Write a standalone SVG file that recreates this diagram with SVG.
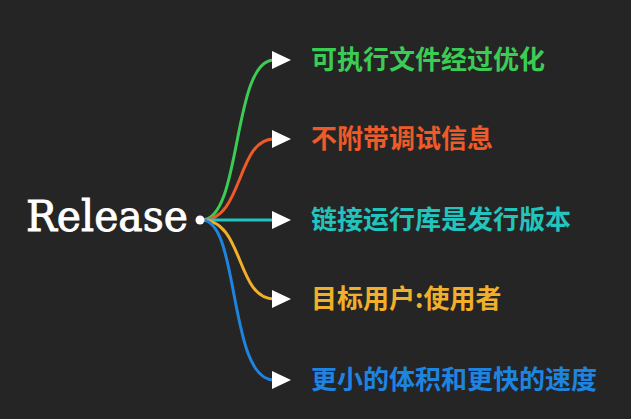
<svg xmlns="http://www.w3.org/2000/svg" width="631" height="419" viewBox="0 0 631 419">
<style>
.bg{fill:#252525}
.c{fill:none;stroke-width:3;stroke-linecap:round}
.ah{fill:#ffffff}
.lbl{font-family:"Noto Sans CJK SC","Noto Sans",sans-serif;font-size:26px;font-weight:bold}
.root{font-family:"DejaVu Serif","Liberation Serif",serif;font-size:42px;fill:#ffffff;stroke:#ffffff;stroke-width:0.9}
</style>
<rect class="bg" x="0" y="0" width="631" height="419"/>
<g id="connectors">
<path class="c" stroke="#3ccc55" d="M202,220 C242,220 232,60 274,60"/>
<path class="c" stroke="#ee5a28" d="M202,220 C244,220 236,139 274,139"/>
<path class="c" stroke="#22c4bd" d="M202,220 L274,220"/>
<path class="c" stroke="#f2b02a" d="M202,220 C244,220 236,299 274,299"/>
<path class="c" stroke="#1e84e0" d="M202,220 C240,220 228,380 274,380"/>
<polygon class="ah" points="272,51 291,60 272,69"/>
<polygon class="ah" points="272,130 291,139 272,148"/>
<polygon class="ah" points="272,211 291,220 272,229"/>
<polygon class="ah" points="272,290 291,299 272,308"/>
<polygon class="ah" points="272,371 291,380 272,389"/>
</g>
<g id="root">
<text class="root" x="26" y="231" textLength="162" lengthAdjust="spacingAndGlyphs">Release</text>
<circle cx="200" cy="220" r="4.5" fill="#ffffff"/>
</g>
<g id="n1"><text class="lbl" x="311" y="69" fill="#3ccc55">可执行文件经过优化</text></g>
<g id="n2"><text class="lbl" x="311" y="148" fill="#ee5a28">不附带调试信息</text></g>
<g id="n3"><text class="lbl" x="311" y="229" fill="#22c4bd">链接运行库是发行版本</text></g>
<g id="n4"><text class="lbl" x="311" y="308" fill="#f2b02a">目标用户:使用者</text></g>
<g id="n5"><text class="lbl" x="311" y="389" fill="#1e84e0">更小的体积和更快的速度</text></g>
</svg>
